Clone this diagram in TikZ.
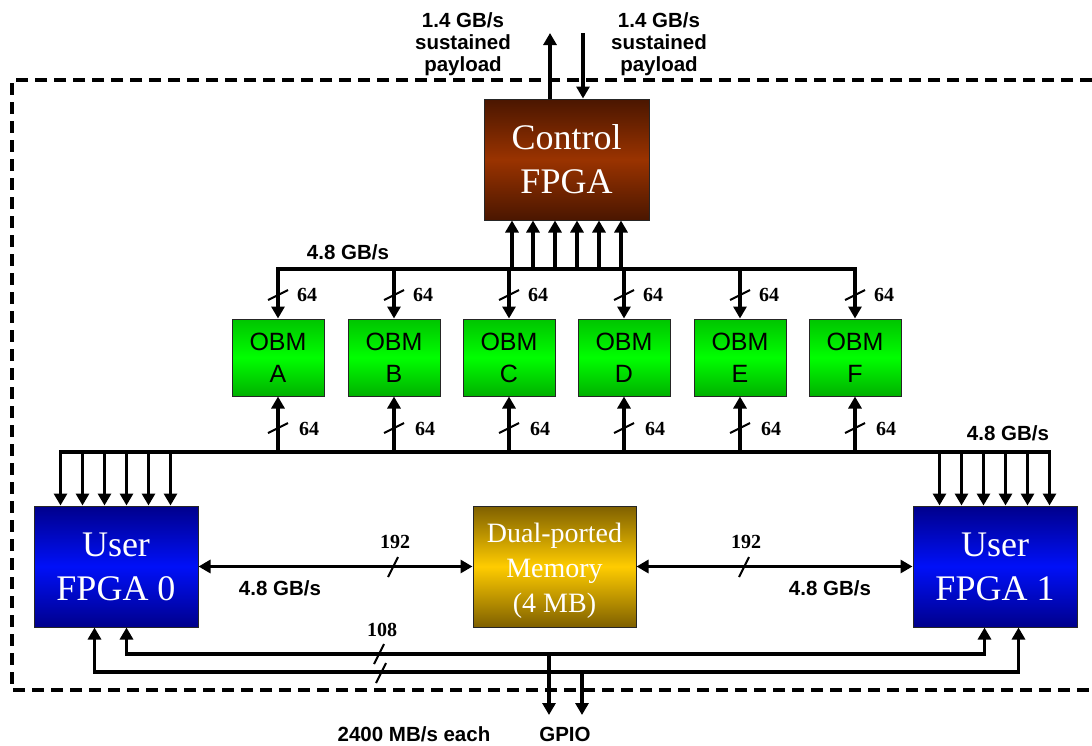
\documentclass[tikz,border=0pt]{standalone}
\usepackage{fontspec}
\setmainfont{Liberation Serif}
\newfontfamily\arialf{Liberation Sans}
\usetikzlibrary{arrows.meta,calc}
\definecolor{brownT}{HTML}{4A1600}
\definecolor{brownM}{HTML}{9A3300}
\definecolor{greenT}{HTML}{00C400}
\definecolor{greenM}{HTML}{00FF00}
\definecolor{blueT}{HTML}{00008C}
\definecolor{blueM}{HTML}{0010F8}
\definecolor{goldT}{HTML}{7F6000}
\definecolor{goldM}{HTML}{FFCC00}
\begin{document}
\begin{tikzpicture}[x=1pt,y=-1pt,
  box/.style={rectangle,draw=black!85,line width=1pt,inner sep=0pt,align=center},
  ctrlbox/.style={box,minimum width=165pt,minimum height=121pt,top color=brownT,bottom color=brownT,middle color=brownM,text=white,font=\fontsize{36}{44}\selectfont},
  userbox/.style={box,minimum width=164pt,minimum height=121pt,top color=blueT,bottom color=blueT,middle color=blueM,text=white,font=\fontsize{36}{44}\selectfont},
  membox/.style={box,minimum width=163pt,minimum height=121pt,top color=goldT,bottom color=goldT,middle color=goldM},
  memtext/.style={inner sep=0pt,align=center,text=white,font=\fontsize{28}{35}\selectfont},
  obmbox/.style={box,minimum width=92pt,minimum height=77pt,top color=greenT,bottom color=greenT!90!black,middle color=greenM,text=black,font=\arialf\fontsize{25}{32}\selectfont},
  ln/.style={line width=3.3pt},
  ar/.style={line width=3.3pt,-{Triangle[width=13pt,length=12pt]}},
  dar/.style={line width=3.3pt,{Triangle[width=13pt,length=12pt]}-{Triangle[width=13pt,length=12pt]}},
  slash/.style={line width=2pt},
  lbl/.style={inner sep=0pt,align=center,font=\arialf\bfseries\fontsize{20.5}{22}\selectfont},
  num/.style={inner sep=0pt,font=\bfseries\fontsize{20}{22}\selectfont},
  border/.style={line width=3.2pt,dash pattern=on 12pt off 7pt}
]
\useasboundingbox (0,0) rectangle (1092,745);
% dashed enclosure
\draw[border] (1092,80) -- (12,80) -- (12,690) -- (1092,690);

% main boxes
\node[ctrlbox] (ctrl) at (566.5,159.5) {Control\\FPGA};
\node[userbox] (fpga0) at (116,566.5) {User\\FPGA 0};
\node[userbox] (fpga1) at (995,566.5) {User\\FPGA 1};
\node[membox] (mem) at (554.5,566.5) {};
\node[memtext] (memlbl) at ($(mem.center)+(0,4)$) {Dual-ported\\Memory\\(4 MB)};
\foreach \n/\x in {A/278,B/394,C/509,D/624,E/740,F/855}
  \node[obmbox] (obm\n) at (\x,357.5) {OBM\\\n};

% top external arrows
\coordinate (upT) at (550,33);
\coordinate (dnT) at (583,33);
\draw[ar] (ctrl.north -| upT) -- (upT);
\draw[ar] (dnT) -- (ctrl.north -| dnT);
\node[lbl,anchor=north] (tl) at (463,12) {1.4 GB/s\\sustained\\payload};
\node[lbl,anchor=north] (tr) at (659,12) {1.4 GB/s\\sustained\\payload};

% top bus
\coordinate (tb) at (0,269);
\draw[ln,line cap=rect] (obmA.north |- tb) -- (obmF.north |- tb);
\foreach \dx [count=\i] in {-54.5,-33.5,-11.5,10.5,32.5,54.5}
  \coordinate (cin\i) at ($(ctrl.south)+(\dx,0)$);
\foreach \i in {1,...,6}
  \draw[ar] (cin\i |- tb) -- (cin\i);
\node[lbl] (bwtop) at (348,252) {4.8 GB/s};
\foreach \n in {A,...,F}{
  \draw[ar] (obm\n.north |- tb) -- (obm\n.north);
  \draw[slash] ($(obm\n.north |- 0,295)+(-10,5)$) -- ++(20,-10);
  \node[num,anchor=west] (nt\n) at ($(obm\n.north |- 0,295)+(19,0)$) {64};
}

% bottom bus
\coordinate (bb) at (0,452);
\foreach \dx [count=\i] in {27,49,71,93,115,137}{
  \coordinate (f0in\i) at ($(fpga0.north west)+(\dx,0)$);
  \coordinate (f1in\i) at ($(fpga1.north west)+(\dx,0)$);
}
\draw[ln,line cap=rect] (f0in1 |- bb) -- (f1in6 |- bb);
\foreach \i in {1,...,6}{
  \draw[ar] (f0in\i |- bb) -- (f0in\i);
  \draw[ar] (f1in\i |- bb) -- (f1in\i);
}
\foreach \n in {A,...,F}{
  \draw[ar] (obm\n.south |- bb) -- (obm\n.south);
  \draw[slash] ($(obm\n.south |- 0,428)+(-10,5)$) -- ++(20,-10);
  \node[num,anchor=west] (nb\n) at ($(obm\n.south |- 0,429)+(21,0)$) {64};
}
\node[lbl] (bwright) at (1008,433) {4.8 GB/s};

% memory links
\draw[dar] (fpga0.east) -- (mem.west);
\draw[dar] (mem.east) -- (fpga1.west);
\draw[slash] (388,577) -- (398,557);
\draw[slash] (739,577) -- (749,557);
\node[num] (n192l) at (395,542) {192};
\node[num] (n192r) at (746,542) {192};
\node[lbl] (bwl) at (280,588) {4.8 GB/s};
\node[lbl] (bwr) at (830,588) {4.8 GB/s};

% GPIO links
\coordinate (l1) at (0,654);
\coordinate (l2) at (0,672);
\coordinate (f0b1) at ($(fpga0.south west)+(61,0)$);
\coordinate (f0b2) at ($(fpga0.south west)+(93,0)$);
\coordinate (f1b1) at ($(fpga1.south west)+(72,0)$);
\coordinate (f1b2) at ($(fpga1.south west)+(106,0)$);
\coordinate (g1) at (549,715);
\coordinate (g2) at (582,715);
\draw[dar] (f0b2) |- (g1 |- l1) -| (f1b1);
\draw[dar] (f0b1) |- (g2 |- l2) -| (f1b2);
\draw[ar] (g1 |- l1) -- (g1);
\draw[ar] (g2 |- l2) -- (g2);
\draw[slash] (374,664) -- (384,644);
\draw[slash] (376,683) -- (386,663);
\node[num] (n108) at (382,630) {108};
\node[lbl] (each) at (414,734) {2400 MB/s each};
\node[lbl] (gpio) at (565,734) {GPIO};
\end{tikzpicture}
\end{document}
